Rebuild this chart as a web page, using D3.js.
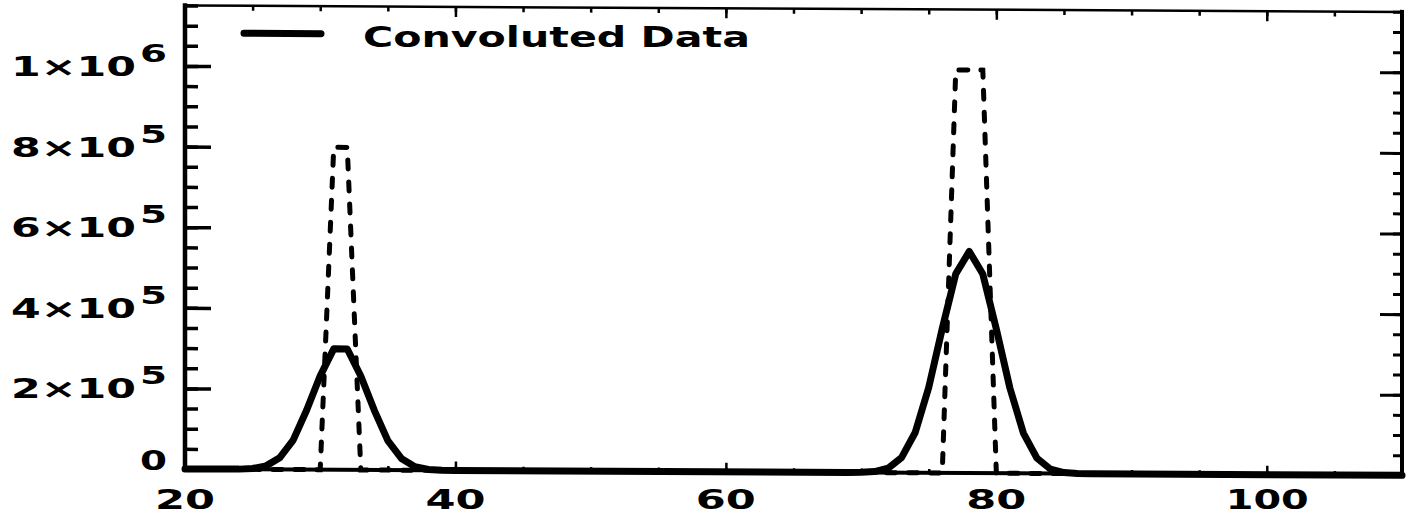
<html><head>
<title>Convoluted Data</title>
<script src="https://d3js.org/d3.v7.min.js"></script>
<style>
  body { margin: 0; background: #fff; }
  text { font-family: "DejaVu Sans", sans-serif; font-weight: bold; fill: #000; }
  .tick line { stroke: #000; }
</style>
</head>
<body>
<svg id="graph" width="1416" height="523"></svg>
<script>

// Raw data (dashed) and convoluted data (solid)
const rawPoints = [
  [20, 0], [30, 0], [31, 800000], [32, 800000], [33, 0],
  [76, 0], [77, 1000000], [78, 1000000], [79, 1000000], [80, 0], [110, 0]
];
const convolutedPoints = [
  [20, 0], [24, 400], [25, 2100], [26, 8800], [27, 29000], [28, 73000], [29, 148000],
  [30, 233000], [31, 300000], [32, 300000], [33, 233000], [34, 148000], [35, 73000],
  [36, 29000], [37, 8800], [38, 2100], [39, 400], [40, 0],
  [69, 0], [70, 500], [71, 2600], [72, 11000], [73, 38000], [74, 100000], [75, 212000],
  [76, 358000], [77, 494000], [78, 550000], [79, 494000], [80, 358000], [81, 212000],
  [82, 100000], [83, 38000], [84, 11000], [85, 2600], [86, 500], [87, 0], [110, 0]
];

const xTicks = [20, 40, 60, 80, 100];
const xTickLabels = ["20", "40", "60", "80", "100"];
const yTicks = [0, 200000, 400000, 600000, 800000, 1000000];
const yTickMant = ["0", "2×10", "4×10", "6×10", "8×10", "1×10"];
const yTickExp = ["", "5", "5", "5", "5", "6"];
const legendLabel = "Convoluted Data";

const svg = d3.select("#graph");
const x = d3.scaleLinear().domain([20, 110]).range([185, 1402]);
const y = d3.scaleLinear().domain([0, 1150000]).range([469, 5.5]);

// the scan is slightly skewed: right side sits a few pixels lower
const plot = svg.append("g")
  .attr("transform", "translate(185,0) skewY(0.3) translate(-185,0)");

// minor + major ticks on all four sides
const xMinor = d3.range(20, 111, 5);
const yMinor = d3.range(0, 1150001, 50000);

function ticks(axis, tr, vals, len, w) {
  plot.append("g").attr("transform", tr)
    .call(axis.tickValues(vals).tickSizeInner(-len).tickSizeOuter(0).tickFormat(""))
    .call(g => g.select(".domain").remove())
    .call(g => g.selectAll(".tick line").attr("stroke-width", w));
}
ticks(d3.axisLeft(y), "translate(185,0)", yMinor, 13, 3.5);
ticks(d3.axisLeft(y), "translate(185,0)", yTicks, 26, 3.5);
ticks(d3.axisRight(y), "translate(1402,0)", yMinor, 9, 3);
ticks(d3.axisRight(y), "translate(1402,0)", yTicks, 22, 3);
ticks(d3.axisTop(x), "translate(0," + y(1150000) + ")", xMinor, 5, 2.5);
ticks(d3.axisTop(x), "translate(0," + y(1150000) + ")", xTicks, 10, 2.5);
ticks(d3.axisBottom(x), "translate(0," + y(0) + ")", xMinor, 4, 2.5);
ticks(d3.axisBottom(x), "translate(0," + y(0) + ")", xTicks, 9, 2.5);

// frame
const frame = [
  [x(20), y(0), x(20), y(1150000), 4.5],
  [x(20), y(0), x(110), y(0), 4],
  [x(110), y(0), x(110), y(1150000), 4],
  [x(20), y(1150000), x(110), y(1150000), 2.5]
];
plot.selectAll("line.frame").data(frame).join("line")
  .attr("class", "frame")
  .attr("x1", d => d[0]).attr("y1", d => d[1])
  .attr("x2", d => d[2]).attr("y2", d => d[3])
  .attr("stroke", "#000").attr("stroke-width", d => d[4])
  .attr("stroke-linecap", "square");

const line = d3.line().x(d => x(d[0])).y(d => y(d[1]));

plot.append("path").datum(rawPoints)
  .attr("d", line).attr("fill", "none")
  .attr("stroke", "#000").attr("stroke-width", 5)
  .attr("stroke-dasharray", "9,13").attr("stroke-linecap", "round");

plot.append("path").datum(convolutedPoints)
  .attr("d", line).attr("fill", "none")
  .attr("stroke", "#000").attr("stroke-width", 7)
  .attr("stroke-linejoin", "round").attr("stroke-linecap", "round");

// legend
plot.append("line")
  .attr("x1", 244).attr("x2", 321).attr("y1", 33).attr("y2", 33)
  .attr("stroke", "#000").attr("stroke-width", 7).attr("stroke-linecap", "round");
svg.append("text")
  .attr("x", 363).attr("y", 47)
  .attr("font-size", 28)
  .attr("textLength", 387).attr("lengthAdjust", "spacingAndGlyphs")
  .text(legendLabel);

// x labels
svg.selectAll("text.xlab").data(xTicks).join("text")
  .attr("class", "xlab")
  .attr("x", (d, i) => x(d) - (xTickLabels[i].length === 3 ? 41 : 30))
  .attr("y", 509)
  .attr("font-size", 27)
  .attr("textLength", (d, i) => xTickLabels[i].length === 3 ? 83 : 60)
  .attr("lengthAdjust", "spacingAndGlyphs")
  .text((d, i) => xTickLabels[i]);

// y labels, mantissa + superscript exponent
yTicks.forEach((v, i) => {
  if (yTickExp[i] === "") {
    svg.append("text").attr("x", 140).attr("y", y(v) + 1)
      .attr("font-size", 26)
      .attr("textLength", 27).attr("lengthAdjust", "spacingAndGlyphs")
      .text(yTickMant[i]);
    return;
  }
  svg.append("text").attr("x", 11).attr("y", y(v) + 10)
    .attr("font-size", 26)
    .attr("textLength", 125).attr("lengthAdjust", "spacingAndGlyphs")
    .text(yTickMant[i]);
  svg.append("text").attr("x", 140).attr("y", y(v) - 4)
    .attr("font-size", 25)
    .attr("textLength", 27).attr("lengthAdjust", "spacingAndGlyphs")
    .text(yTickExp[i]);
});

</script>
</body>
</html>
